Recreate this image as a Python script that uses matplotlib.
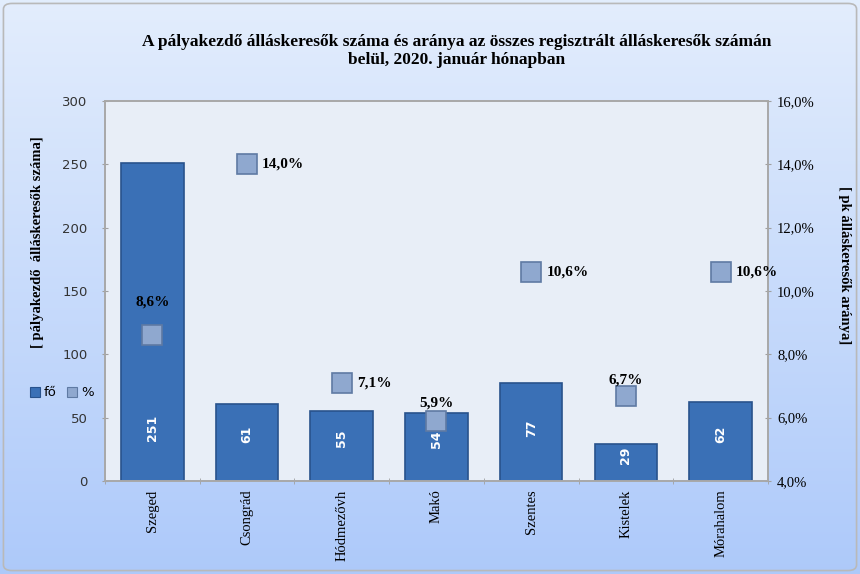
import numpy as np
import matplotlib
matplotlib.use('Agg')
import matplotlib.pyplot as plt
from matplotlib.patches import FancyBboxPatch

# === Data ===
towns = ['Szeged', 'Csongrád', 'Hódmezővh', 'Makó', 'Szentes', 'Kistelek', 'Mórahalom']
counts = [251, 61, 55, 54, 77, 29, 62]
shares = [8.6, 14.0, 7.1, 5.9, 10.6, 6.7, 10.6]

# label placement for the percentage markers (layout only)
label_pos = ['above', 'right', 'right', 'above', 'right', 'above', 'right']
label_dy = [1.05, 0, 0, 0.57, 0, 0.5, 0]

serif = 'Liberation Serif'
plt.rcParams['font.family'] = [serif, 'DejaVu Serif']

fig = plt.figure(figsize=(8.6, 5.74), dpi=100)

# === Gradient background ===
bg = fig.add_axes([0, 0, 1, 1], zorder=-10)
grad = np.linspace(0, 1, 256).reshape(-1, 1)
top = np.array([0.89, 0.93, 0.99])
bot = np.array([0.68, 0.79, 0.98])
img = top + (bot - top) * grad[..., None]
bg.imshow(img, aspect='auto', extent=[0, 1, 0, 1])
bg.add_patch(FancyBboxPatch((0.004, 0.006), 0.992, 0.988, boxstyle='round,pad=0,rounding_size=0.01',
                            fill=False, edgecolor='#b9b9b9', lw=1.2, transform=bg.transAxes))
bg.set_xlim(0, 1)
bg.set_ylim(0, 1)
bg.axis('off')

# === Main axes ===
ax = fig.add_axes([0.122, 0.162, 0.771, 0.662])
ax.set_facecolor('#e8eef7')
x = np.arange(len(towns))
bars = ax.bar(x, counts, width=0.66, color='#3a70b6', edgecolor='#28528c', linewidth=1.2, zorder=2)
for b, v in zip(bars, counts):
    ax.text(b.get_x() + b.get_width() / 2, min(v / 2 + 6, 42), str(v), rotation=90, ha='center',
            va='center', color='white', fontsize=9, fontweight='bold', family='DejaVu Sans', zorder=3)

ax.set_xlim(-0.5, len(towns) - 0.5)
ax.set_ylim(0, 300)
ax.set_yticks(range(0, 301, 50))
ax.set_xticks(x)
ax.set_xticklabels(towns, rotation=90, fontsize=10.5, family=serif)
ax.set_xticks(np.arange(-0.5, len(towns)), minor=True)
ax.tick_params(axis='x', which='major', length=0, pad=6)
ax.tick_params(axis='x', which='minor', length=5, color='#a0a0a0', direction='inout')
ax.tick_params(axis='y', length=5, color='#a0a0a0', direction='inout', pad=10)
for lab in ax.get_yticklabels():
    lab.set_family('DejaVu Sans')
    lab.set_fontsize(9.5)
    lab.set_color('#333333')
for sp in ax.spines.values():
    sp.set_color('#a8a8a8')
    sp.set_linewidth(1.2)

# === Right axis: share ===
ax2 = ax.twinx()
ax2.set_ylim(4, 16)
ax2.set_yticks(np.arange(4, 16.1, 2))
ax2.set_yticklabels([f'{t:.1f}%'.replace('.', ',') for t in np.arange(4, 16.1, 2)], fontsize=10.5)
ax2.tick_params(axis='y', length=5, color='#a0a0a0', direction='inout', pad=4)
for sp in ax2.spines.values():
    sp.set_color('#a8a8a8')
    sp.set_linewidth(1.2)
ax2.plot(x, shares, linestyle='none', marker='s', markersize=14, markerfacecolor='#8fa8cf',
         markeredgecolor='#5f7aa3', markeredgewidth=1.2, zorder=4)
for xi, s, pos, dy in zip(x, shares, label_pos, label_dy):
    txt = f'{s:.1f}%'.replace('.', ',')
    if pos == 'above':
        ax2.text(xi, s + dy, txt, ha='center', va='center', fontsize=11, fontweight='bold', zorder=5)
    else:
        ax2.text(xi + 0.16, s, txt, ha='left', va='center', fontsize=11, fontweight='bold', zorder=5)

# === Axis titles (placed like the original) ===
fig.text(0.044, 0.578, '[ pályakezdő  álláskeresők száma]', rotation=90, ha='center', va='center',
         fontsize=10.5, fontweight='bold')
fig.text(0.982, 0.538, '[ pk álláskeresők aránya]', rotation=270, ha='center', va='center',
         fontsize=10.5, fontweight='bold')

# === Legend ===
fig.patches.append(plt.Rectangle((0.035, 0.308), 0.012, 0.018, transform=fig.transFigure,
                                 facecolor='#3a70b6', edgecolor='#28528c', lw=0.8))
fig.text(0.051, 0.317, 'fő', fontsize=9.5, va='center', family='DejaVu Sans')
fig.patches.append(plt.Rectangle((0.078, 0.308), 0.012, 0.018, transform=fig.transFigure,
                                 facecolor='#8fa8cf', edgecolor='#5f7aa3', lw=0.8))
fig.text(0.094, 0.317, '%', fontsize=9.5, va='center', family='DejaVu Sans')

# === Title ===
fig.text(0.531, 0.911,
         'A pályakezdő álláskeresők száma és aránya az összes regisztrált álláskeresők számán\nbelül, 2020. január hónapban',
         ha='center', va='center', fontsize=12.5, fontweight='bold', linespacing=1.1)

fig.savefig('out.png', dpi=100)
